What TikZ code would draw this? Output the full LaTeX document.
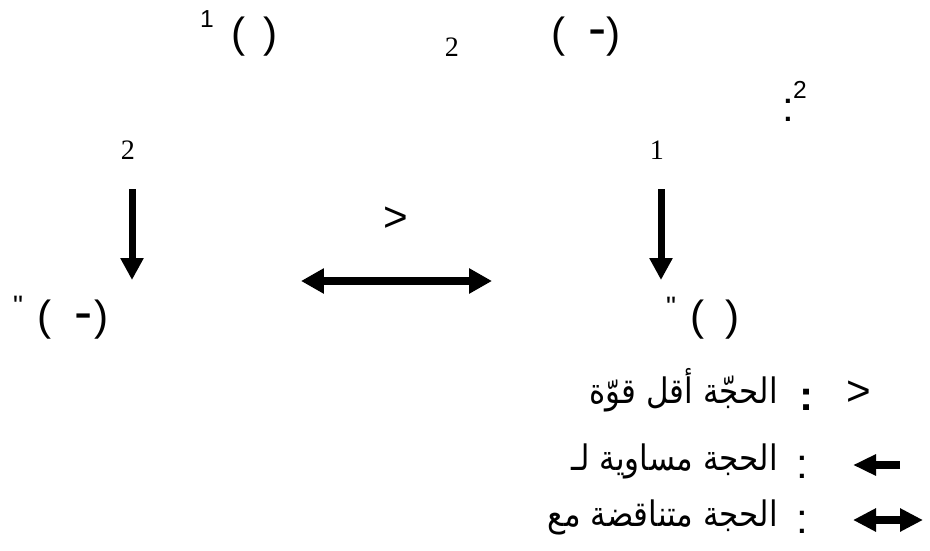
\documentclass[tikz,border=0pt]{standalone}
\usepackage{fontspec}
\newfontfamily\sansfont{Liberation Sans}
\newfontfamily\timesfont{Liberation Serif}
\newfontfamily\arabicfont[Script=Arabic, FakeStretch=0.88]{DejaVu Sans}
\TeXXeTstate=1
\usetikzlibrary{arrows.meta}

\begin{document}
\begin{tikzpicture}[x=0.02cm, y=-0.02cm,
  big/.style={inner sep=0pt, font=\sansfont\fontsize{24}{28}\selectfont},
  dash line/.style={inner sep=0pt, font=\sansfont\fontsize{31}{34}\selectfont},
  small/.style={inner sep=0pt, font=\sansfont\fontsize{14}{16}\selectfont},
  quote/.style={inner sep=0pt, font=\sansfont\fontsize{16}{18}\selectfont},
  digit/.style={inner sep=0pt, font=\timesfont\fontsize{16}{18}\selectfont},
  ar/.style={inner sep=0pt, anchor=base east, font=\arabicfont\fontsize{20}{24}\selectfont},
  down/.style={line width=0.14cm, -{Triangle[length=0.44cm, width=0.44cm]}},
  fat/.style={line width=0.16cm, {Triangle[length=0.46cm, width=0.48cm]}-{Triangle[length=0.46cm, width=0.48cm]}}
]

% Frame
\useasboundingbox (0,0) rectangle (930,551);

% Top line
\node[small] (supone) at (207,19) {1};
\node[big] (tlopen) at (239,37) {(};
\node[big] (tlclose) at (271,37) {)};
\node[digit] (subtwo) at (452,47) {2};
\node[big] (tropen) at (559,37) {(};
\node[dash line] (trdash) at (598,38) {-};
\node[big] (trclose) at (614,37) {)};
\node[big] (colon) at (788,110) {:};
\node[small] (suptwo) at (800,90) {2};

% Labels of the two arguments
\node[digit] (argtwo) at (128,150) {2};
\node[digit] (argone) at (657,150) {1};
\node[big] (less) at (396,219) {>};

% Arrows down to the conclusions
\foreach \name/\x in {left/132, right/661}{
  \coordinate (\name top) at (\x,189);
  \coordinate (\name tip) at (\x,280);
  \draw[down] (\name top) -- (\name tip);
}

% Contradiction between the arguments
\coordinate (contraL) at (301,281);
\coordinate (contraR) at (492,281);
\draw[fat] (contraL) -- (contraR);

% Conclusions
\node[quote] (blquote) at (18,306) {"};
\node[big] (blopen) at (45,320) {(};
\node[dash line] (bldash) at (84,322) {-};
\node[big] (blclose) at (102,320) {)};
\node[quote] (brquote) at (671,307) {"};
\node[big] (bropen) at (698,320) {(};
\node[big] (brclose) at (733,320) {)};

% Legend
\node[big] (keyless) at (859,393) {>};
\node[big, font=\sansfont\bfseries\fontsize{24}{28}\selectfont] (keycolA) at (807,400) {:};
\node[ar] (keytextA) at (778,403) {\beginR الحجّة أقل قوّة\endR};

\coordinate (keyarrR) at (900,465);
\coordinate (keyarrL) at (853,465);
\draw[line width=0.16cm, -{Triangle[length=0.46cm, width=0.4cm]}] (keyarrR) -- (keyarrL);
\node[big] (keycolB) at (802,467) {:};
\node[ar] (keytextB) at (778,470) {\beginR الحجة مساوية لـ\endR};

\coordinate (keydblL) at (853,520);
\coordinate (keydblR) at (923,520);
\draw[line width=0.16cm, {Triangle[length=0.46cm, width=0.44cm]}-{Triangle[length=0.46cm, width=0.44cm]}] (keydblL) -- (keydblR);
\node[big] (keycolC) at (802,522) {:};
\node[ar] (keytextC) at (778,526) {\beginR الحجة متناقضة مع\endR};

\end{tikzpicture}
\end{document}
